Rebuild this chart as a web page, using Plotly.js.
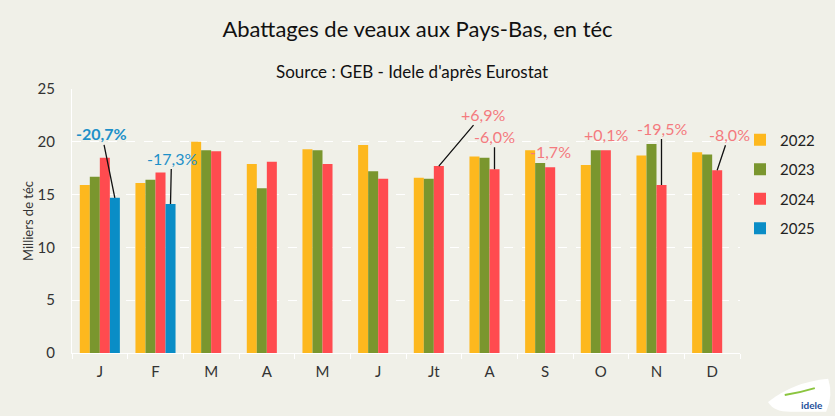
<!DOCTYPE html>
<html>
<head>
<meta charset="utf-8">
<script src="https://cdn.plot.ly/plotly-3.0.1.min.js"></script>
<style>html,body{margin:0;padding:0;background:#f0f0e8;}#chart{width:835px;height:416px;}</style>
</head>
<body>
<div id="chart"></div>
<script>
const months = ['J','F','M','A','M','J','Jt','A','S','O','N','D'];
const years = ['2022','2023','2024','2025'];
const v2022 = [15.9, 16.1, 20.0, 17.9, 19.3, 19.7, 16.6, 18.6, 19.2, 17.8, 18.7, 19.0];
const v2023 = [16.7, 16.4, 19.2, 15.6, 19.2, 17.2, 16.5, 18.5, 18.0, 19.2, 19.8, 18.8];
const v2024 = [18.5, 17.1, 19.1, 18.1, 17.9, 16.5, 17.7, 17.4, 17.6, 19.2, 15.9, 17.3];
const v2025 = [14.7, 14.1, null, null, null, null, null, null, null, null, null, null];
const colors = ['#FDB81E', '#7A962E', '#FF4B4F', '#0A8DC6'];

// variation labels: month index, series year, text
const labelMonth = [0, 1, 6, 7, 8, 9, 10, 11];
const labelYear = ['2025', '2025', '2024', '2024', '2024', '2024', '2024', '2024'];
const labelText = ['-20,7%', '-17,3%', '+6,9%', '-6,0%', '-1,7%', '+0,1%', '-19,5%', '-8,0%'];

const xIdx = months.map((m, i) => i);
const series = [v2022, v2023, v2024, v2025];
const FONT = 'Lato, "Open Sans", sans-serif';

const traces = series.map((vals, k) => ({
  type: 'bar', name: years[k], x: xIdx, y: vals,
  marker: {color: colors[k]}, legendgroup: years[k],
  hoverinfo: 'skip'
}));

const barOffsetPx = {'2022': -15, '2023': -5, '2024': 5, '2025': 15};
const pink = '#F47A7E', blue = '#1E90C8';
const labelStyle = [
  {arrow: true, ax: -13, ay: -64, col: blue, bold: true},
  {arrow: true, ax: 1, ay: -46, col: blue, bold: false},
  {arrow: true, ax: 44, ay: -52, col: pink, bold: false},
  {arrow: true, ax: 0, ay: -33, col: pink, bold: false},
  {arrow: false, yshift: 16, col: pink, bold: false},
  {arrow: false, yshift: 16, col: pink, bold: false},
  {arrow: true, ax: 0, ay: -57, col: pink, bold: false},
  {arrow: true, ax: 12, ay: -36, col: pink, bold: false}
];

const annotations = labelMonth.map((mi, j) => {
  const yr = labelYear[j];
  const vals = series[years.indexOf(yr)];
  const s = labelStyle[j];
  const base = {
    x: xIdx[mi], y: vals[mi], xref: 'x', yref: 'y',
    xshift: barOffsetPx[yr],
    text: s.bold ? '<b>' + labelText[j] + '</b>' : labelText[j],
    font: {family: FONT, size: 16, color: s.col}
  };
  if (s.arrow) {
    return Object.assign(base, {showarrow: true, arrowhead: 0, arrowwidth: 1.3,
      arrowcolor: '#111', ax: s.ax, ay: s.ay, standoff: 0, startstandoff: 0});
  }
  return Object.assign(base, {showarrow: false, yshift: s.yshift});
});

annotations.push({xref: 'paper', yref: 'paper', x: 0.509, y: 1, yshift: 18, xanchor: 'center', yanchor: 'middle',
  text: 'Source : GEB - Idele d\'après Eurostat', showarrow: false,
  font: {family: FONT, size: 17, color: '#111'}});
annotations.push({xref: 'paper', yref: 'paper', x: 1.108, y: -0.197, xanchor: 'center', yanchor: 'middle',
  text: '<b>idele</b>', showarrow: false, font: {family: FONT, size: 10, color: '#1d4f9a'}});

const layout = {
  width: 835, height: 416,
  paper_bgcolor: '#f0f0e8', plot_bgcolor: '#f0f0e8',
  margin: {l: 72, r: 95, t: 89, b: 63},
  title: {text: 'Abattages de veaux aux Pays-Bas, en téc', x: 0.5, xanchor: 'center', xref: 'container',
    y: 1, yref: 'container', yanchor: 'top', pad: {t: 22},
    font: {family: FONT, size: 22, color: '#111'}},
  barmode: 'group', bargap: 0.28, bargroupgap: 0,
  xaxis: {range: [-0.5, 11.5], tickvals: xIdx, ticktext: months, ticks: '', ticklabelstandoff: 5,
    showline: true, linecolor: '#ffffff', linewidth: 1, showgrid: false, zeroline: false,
    tickfont: {family: FONT, size: 15, color: '#333'},
    minor: {tickvals: [-0.5,0.5,1.5,2.5,3.5,4.5,5.5,6.5,7.5,8.5,9.5,10.5,11.5], ticks: 'outside', ticklen: 5, tickcolor: '#ffffff', showgrid: false}},
  yaxis: {range: [0, 25], dtick: 5, showgrid: true, gridcolor: '#ffffff', griddash: 'dash', gridwidth: 1,
    showline: true, linecolor: '#ffffff', zeroline: false, ticks: '', ticklabelstandoff: 13,
    tickfont: {family: FONT, size: 15, color: '#333'},
    title: {text: 'Milliers de téc', standoff: 1, font: {family: FONT, size: 13, color: '#333'}}},
  legend: {x: 1.0, xanchor: 'left', y: 0.64, yanchor: 'middle', bgcolor: 'rgba(0,0,0,0)',
    font: {family: FONT, size: 15, color: '#222'}, traceorder: 'grouped', tracegroupgap: 7, itemwidth: 30},
  showlegend: true,
  annotations: annotations,
  shapes: [
    {type: 'path', xref: 'paper', yref: 'paper',
     path: 'M 1.042 -0.186 Q 1.08 -0.11 1.132 -0.098 Q 1.14 -0.16 1.129 -0.223 L 1.075 -0.223 Q 1.05 -0.223 1.042 -0.186 Z',
     fillcolor: '#ffffff', line: {width: 0}, layer: 'above'},
    {type: 'path', xref: 'paper', yref: 'paper',
     path: 'M 1.067 -0.159 Q 1.09 -0.15 1.112 -0.133', line: {color: '#8bc53f', width: 2}, layer: 'above'}
  ]
};

Plotly.newPlot('chart', traces, layout, {displayModeBar: false, staticPlot: true});
</script>
</body>
</html>
